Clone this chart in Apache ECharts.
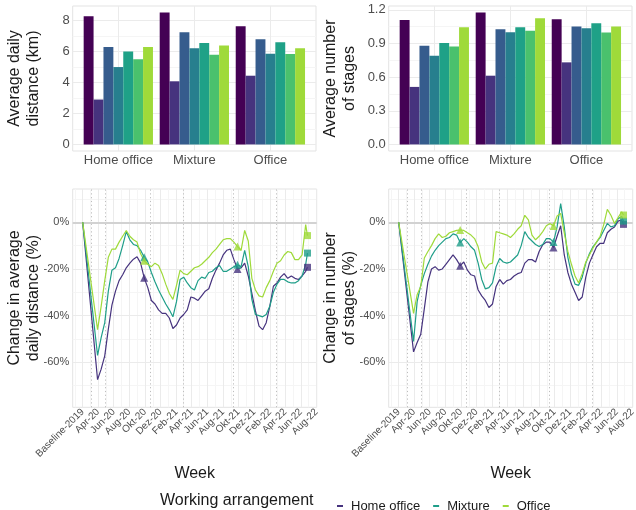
<!DOCTYPE html>
<html>
<head>
<meta charset="utf-8">
<script src="https://cdn.jsdelivr.net/npm/echarts@6/dist/echarts.min.js"></script>
<style>
  html, body { margin: 0; padding: 0; background: #ffffff; }
  #chart { width: 636px; height: 510px; }
</style>
</head>
<body>
<div id="chart"></div>
<script>
// ---------- data ----------
const arrangements = ['Home office', 'Mixture', 'Office'];
const phases = ['Phase 1', 'Phase 2', 'Phase 3', 'Phase 4', 'Phase 5', 'Phase 6', 'Phase 7'];

// Average daily distance (km), one value per phase
const distHome    = [8.28, 2.90, 6.29, 5.00, 6.01, 5.51, 6.29];
const distMixture = [8.52, 4.08, 7.25, 6.22, 6.55, 5.79, 6.39];
const distOffice  = [7.64, 4.44, 6.80, 5.86, 6.61, 5.84, 6.22];

// Average number of stages, one value per phase
const stagesHome    = [1.111, 0.513, 0.880, 0.791, 0.904, 0.874, 1.046];
const stagesMixture = [1.176, 0.613, 1.028, 1.001, 1.046, 1.013, 1.126];
const stagesOffice  = [1.117, 0.732, 1.052, 1.037, 1.081, 0.999, 1.052];

const distTicks  = [0, 2, 4, 6, 8];
const stageTicks = [0, 0.3, 0.6, 0.9, 1.2];
const pctTicks   = [-60, -40, -20, 0];
const pctMinor   = [-70, -50, -30, -10, 10];
const pctLimits  = [-75, 10];

const weekTickDates = ['2020-02-01', '2020-04-01', '2020-06-01', '2020-08-01', '2020-10-01', '2020-12-01',
  '2021-02-01', '2021-04-01', '2021-06-01', '2021-08-01', '2021-10-01', '2021-12-01',
  '2022-02-01', '2022-04-01', '2022-06-01', '2022-08-01'];
const weekTickLabels = ['Baseline-2019', 'Apr-20', 'Jun-20', 'Aug-20', 'Okt-20', 'Dez-20',
  'Feb-21', 'Apr-21', 'Jun-21', 'Aug-21', 'Okt-21', 'Dez-21',
  'Feb-22', 'Apr-22', 'Jun-22', 'Aug-22'];
const weekMinorDates = ['2020-01-01', '2020-03-01', '2020-05-01', '2020-07-01', '2020-09-01', '2020-11-01',
  '2021-01-01', '2021-03-01', '2021-05-01', '2021-07-01', '2021-09-01', '2021-11-01',
  '2022-01-01', '2022-03-01', '2022-05-01', '2022-07-01'];
const weekRange = ['2019-12-24', '2022-08-02'];

// policy milestones shown as dotted verticals
const eventDates = ['2020-03-04', '2020-04-30', '2020-10-21', '2021-03-01', '2021-09-12', '2022-02-27'];
// survey waves marked with triangles
const surveyWeeks = ['2020-09-28', '2021-09-27'];

const weeks = ['2020-02-01',
  '2020-03-30', '2020-04-13', '2020-04-27', '2020-05-11', '2020-05-25', '2020-06-08', '2020-06-22',
  '2020-07-06', '2020-07-20', '2020-08-03', '2020-08-17', '2020-08-31', '2020-09-14', '2020-09-28',
  '2020-10-12', '2020-10-26', '2020-11-09', '2020-11-23', '2020-12-07', '2020-12-21',
  '2021-01-04', '2021-01-18', '2021-02-01', '2021-02-15', '2021-03-01', '2021-03-15', '2021-03-29',
  '2021-04-12', '2021-04-26', '2021-05-10', '2021-05-24', '2021-06-07', '2021-06-21', '2021-07-05',
  '2021-07-19', '2021-08-02', '2021-08-16', '2021-08-30', '2021-09-13', '2021-09-27', '2021-10-11',
  '2021-10-25', '2021-11-08', '2021-11-22', '2021-12-06', '2021-12-20',
  '2022-01-03', '2022-01-17', '2022-01-31', '2022-02-14', '2022-02-28', '2022-03-14', '2022-03-28',
  '2022-04-11', '2022-04-25', '2022-05-09', '2022-05-23', '2022-06-06', '2022-06-20', '2022-06-27'];

// Change in average daily distance (%)
const chgDistHome = [0, -67.4, -62.9, -57.2, -45.8, -35.5, -29.5, -25, -22.5, -19.5, -17.5, -15.8, -14.8, -17.5,
  -23.8, -28, -33.5, -35, -37.5, -39, -39, -41, -45.5, -44, -41, -39.5, -37.5, -32, -32.5, -33.5, -31.5,
  -29.5, -28.5, -24, -20.5, -17.5, -14, -12, -11.5, -16, -20, -19.5, -17.5, -23, -30.5, -38, -44.5, -46,
  -43, -36, -27.4, -26, -23.5, -22, -24, -23, -24, -24.5, -23, -21, -19.3];
const chgDistMixture = [0, -57, -49.4, -43, -29.5, -20.5, -19.5, -15.5, -10, -4, -7.5, -9.5, -10, -12, -15,
  -17, -21.5, -25.5, -29, -32, -35, -37.5, -40.5, -34, -24.5, -23.5, -26, -28, -29, -25, -23.5, -24, -21.5,
  -21, -19.5, -18.5, -21, -21, -20, -19, -18.2, -19, -12, -19, -33, -39.5, -40, -40.5, -39.5, -36, -30,
  -26.5, -24.5, -24.5, -25.5, -26, -26, -25, -23, -18, -13.2];
const chgDistOffice = [0, -46, -36, -25, -15, -11.5, -11.5, -8.5, -6, -3.5, -6, -7.5, -8.5, -13.5, -16.5,
  -18, -19, -17.5, -18.5, -22, -26.5, -30.5, -33, -27, -20.5, -22, -22.5, -21, -19.5, -19, -18, -16.5, -15,
  -13, -11.5, -9.5, -7.5, -7, -7, -8.5, -10.4, -12, -3.5, -8, -24, -29, -31.5, -32, -28, -25, -21, -17.5,
  -16.5, -14, -12.5, -13, -16, -16, -14, -1, -5.7];

// Change in number of stages (%)
const chgStageHome = [0, -55.5, -51.5, -48, -37, -25.5, -20, -19, -20.5, -20, -18, -16, -14, -16, -18.6,
  -17, -20.5, -22.5, -23, -29, -31.5, -33.5, -36.5, -35, -27.5, -24.5, -26.5, -25, -24.5, -23, -22, -21.5,
  -17.5, -16, -16, -17, -12.5, -9.6, -8.5, -8.5, -10.8, -6, -1.5, -14, -21.5, -26.5, -30, -33.5, -32, -23.5,
  -17.5, -13.9, -10.5, -9, -9, -4.5, -3, -2, 0.5, 1, -0.9];
const chgStageMixture = [0, -51, -34, -27, -22, -18, -14.5, -12, -10, -8.5, -7, -6.5, -5, -5.5, -8.7, -7,
  -8.5, -10.5, -12, -17.5, -24.5, -28.5, -28, -26, -19, -15.5, -17, -17.5, -17, -15.5, -14, -10, -4, -6.5,
  -8, -9.5, -10.4, -9.5, -7, -7, -8.5, -2, 8, -2, -15, -22, -26.5, -27, -23.5, -17.5, -13.5, -10.5, -8.5,
  -6.5, -3.5, -0.5, -2, -1.5, 1.5, 2.5, 0.5];
const chgStageOffice = [0, -39, -31, -27.5, -15.3, -12.5, -10, -7, -5, -6.5, -6, -4.5, -4, -3.5, -3.3, -3.5,
  -4.5, -5.5, -7, -10.5, -17, -20, -18, -17.5, -4, -4.5, -5, -5.5, -6.5, -5, -3, -1.5, 3, 1, -5.5, -7.5, -6,
  -4, -1.5, -0.5, -1.6, 2.7, 3.8, -4.5, -12.5, -18, -23, -26, -22, -17, -14, -11, -8.5, -6, -1, 5.5, 3,
  -0.5, 2, 4.5, 3.1];

// ---------- styling ----------
const FONT = '"Liberation Sans", Arial, Helvetica, sans-serif';
const phaseColors = ['#440154', '#46337E', '#365C8D', '#277F8E', '#1FA187', '#4AC16D', '#9FDA3A'];
const lineColors = ['#46337E', '#1F9E89', '#9FDA3A'];
const GRID_MAJOR = '#EBEBEB';
const GRID_MINOR = '#F5F5F5';
const AXIS_TEXT = '#4D4D4D';
const TITLE_TEXT = '#1A1A1A';

const t = s => Date.parse(s);
const tickLabelByTime = new Map(weekTickDates.map((d, i) => [t(d), weekTickLabels[i]]));

// ggplot-style 5% expansion
function expand(lo, hi) {
  const pad = (hi - lo) * 0.05;
  return [lo - pad, hi + pad];
}

// ---------- helpers ----------
function hLine(v, color, width, type) {
  return { yAxis: v, lineStyle: { color: color, width: width, type: type || 'solid' } };
}
function vLine(v, color, width, type) {
  return { xAxis: v, lineStyle: { color: color, width: width, type: type || 'solid' } };
}
// background guide lines (grid, milestones, zero line) kept beneath the data marks
function guideSeries(idx, lines) {
  return {
    type: 'line', xAxisIndex: idx, yAxisIndex: idx, data: [], z: 0, silent: true,
    markLine: {
      z: 0, silent: true, animation: false, symbol: ['none', 'none'],
      label: { show: false }, emphasis: { disabled: true },
      data: lines
    }
  };
}

const grids = [
  { left: 72.7, top: 6, width: 243.3, height: 145 },
  { left: 388.7, top: 6, width: 243.3, height: 145 },
  { left: 72.7, top: 189, width: 244, height: 218.3 },
  { left: 388.7, top: 189, width: 244, height: 218.3 }
].map(g => Object.assign(g, {
  show: true, borderColor: '#E3E3E3', borderWidth: 1, backgroundColor: 'transparent',
  containLabel: false, outerBoundsMode: 'none', z: -1
}));

const catRange = [0.4, 3.6];
const catPositions = arrangements.map((_, i) => i + 1);

function barXAxis(idx) {
  return {
    type: 'value', gridIndex: idx, min: catRange[0], max: catRange[1],
    axisLine: { show: false }, axisTick: { show: false }, splitLine: { show: false },
    axisLabel: {
      customValues: catPositions, color: AXIS_TEXT, fontSize: 13, fontFamily: FONT, margin: 3,
      formatter: v => arrangements[Math.round(v) - 1] || ''
    }
  };
}
function barYAxis(idx, range, ticks, fmt) {
  return {
    type: 'value', gridIndex: idx, min: range[0], max: range[1],
    axisLine: { show: false }, axisTick: { show: false }, splitLine: { show: false },
    axisLabel: { customValues: ticks, color: AXIS_TEXT, fontSize: 13, fontFamily: FONT, margin: 3, formatter: fmt }
  };
}
function weekXAxis(idx) {
  return {
    type: 'value', gridIndex: idx, min: t(weekRange[0]), max: t(weekRange[1]),
    axisLine: { show: false }, axisTick: { show: false }, splitLine: { show: false },
    axisLabel: {
      customValues: weekTickDates.map(t), rotate: 45, color: AXIS_TEXT, fontSize: 10,
      fontFamily: FONT, margin: 3, formatter: v => tickLabelByTime.get(v) || ''
    }
  };
}
function pctYAxis(idx) {
  const r = expand(pctLimits[0], pctLimits[1]);
  return {
    type: 'value', gridIndex: idx, min: r[0], max: r[1],
    axisLine: { show: false }, axisTick: { show: false }, splitLine: { show: false },
    axisLabel: {
      customValues: pctTicks, color: AXIS_TEXT, fontSize: 11, fontFamily: FONT, margin: 3.5,
      formatter: v => v + '%'
    }
  };
}

const distMax = Math.max(...distHome, ...distMixture, ...distOffice);
const stageMax = Math.max(...stagesHome, ...stagesMixture, ...stagesOffice);
const distRange = expand(0, distMax);
const stageRange = expand(0, stageMax);

function barSeries(idx, home, mixture, office) {
  return phases.map((p, k) => ({
    type: 'bar', name: p, xAxisIndex: idx, yAxisIndex: idx,
    barWidth: 9.9, barGap: '0%', z: 2,
    itemStyle: { color: phaseColors[k] },
    data: [[1, home[k]], [2, mixture[k]], [3, office[k]]]
  }));
}

function midpoints(ticks) {
  const out = [];
  for (let i = 0; i < ticks.length - 1; i++) out.push((ticks[i] + ticks[i + 1]) / 2);
  return out;
}

function barGuides(idx, ticks, range) {
  const minor = midpoints(ticks);
  const step = ticks[1] - ticks[0];
  const top = ticks[ticks.length - 1] + step / 2;
  if (top < range[1]) minor.push(top);
  return guideSeries(idx, [
    ...minor.map(v => hLine(v, GRID_MINOR, 1)),
    ...ticks.map(v => hLine(v, GRID_MAJOR, 1)),
    ...catPositions.map(v => vLine(v, GRID_MAJOR, 1))
  ]);
}

function lineGuides(idx) {
  return guideSeries(idx, [
    ...pctMinor.map(v => hLine(v, GRID_MINOR, 1)),
    ...weekMinorDates.map(d => vLine(t(d), GRID_MINOR, 1)),
    ...pctTicks.map(v => hLine(v, GRID_MAJOR, 1)),
    ...weekTickDates.map(d => vLine(t(d), GRID_MAJOR, 1)),
    ...eventDates.map(d => vLine(t(d), '#BDBDBD', 1, [1.2, 2.6])),
    hLine(0, '#D2D2D2', 1.8)
  ]);
}

function changeSeries(idx, arrays) {
  const out = [];
  arrays.forEach((vals, a) => {
    out.push({
      type: 'line', name: arrangements[a], xAxisIndex: idx, yAxisIndex: idx,
      data: weeks.map((w, i) => [t(w), vals[i]]),
      showSymbol: false, symbol: 'none', z: 3,
      lineStyle: { color: lineColors[a], width: 1.2 },
      itemStyle: { color: lineColors[a] }
    });
  });
  arrays.forEach((vals, a) => {
    out.push({
      type: 'scatter', name: arrangements[a] + ' wave', xAxisIndex: idx, yAxisIndex: idx,
      symbol: 'triangle', symbolSize: 8, z: 4,
      itemStyle: { color: lineColors[a] },
      data: surveyWeeks.map(w => [t(w), vals[weeks.indexOf(w)]])
    });
    const last = weeks.length - 1;
    out.push({
      type: 'scatter', name: arrangements[a] + ' latest', xAxisIndex: idx, yAxisIndex: idx,
      symbol: 'rect', symbolSize: 7, z: 4,
      itemStyle: { color: lineColors[a] },
      data: [[t(weeks[last]), vals[last]]]
    });
  });
  return out;
}

function yTitle(x, y, text) {
  return {
    type: 'text', x: x, y: y, rotation: Math.PI / 2, silent: true,
    style: { text: text, align: 'center', verticalAlign: 'middle', fill: TITLE_TEXT,
      font: '16px ' + FONT, lineHeight: 18.5 }
  };
}
function xTitle(x, y, text) {
  return {
    type: 'text', x: x, y: y, silent: true,
    style: { text: text, align: 'center', verticalAlign: 'middle', fill: TITLE_TEXT, font: '16px ' + FONT }
  };
}

const option = {
  animation: false,
  backgroundColor: '#ffffff',
  textStyle: { fontFamily: FONT },
  grid: grids,
  xAxis: [barXAxis(0), barXAxis(1), weekXAxis(2), weekXAxis(3)],
  yAxis: [
    barYAxis(0, distRange, distTicks, v => String(v)),
    barYAxis(1, stageRange, stageTicks, v => v.toFixed(1)),
    pctYAxis(2),
    pctYAxis(3)
  ],
  legend: {
    data: arrangements, left: 332, top: 493, icon: 'rect',
    itemWidth: 6, itemHeight: 2, itemGap: 13, selectedMode: false,
    textStyle: { fontSize: 13, color: TITLE_TEXT, fontFamily: FONT, padding: [0, 0, 0, 3], lineHeight: 16 }
  },
  graphic: [
    yTitle(24.3, 78.5, 'Average daily\ndistance (km)'),
    yTitle(340.2, 78.5, 'Average number\nof stages'),
    yTitle(24.3, 298, 'Change in average\ndaily distance (%)'),
    yTitle(340.2, 298, 'Change in number\nof stages (%)'),
    xTitle(194.7, 474, 'Week'),
    xTitle(510.7, 474, 'Week'),
    {
      type: 'text', x: 160, y: 501, silent: true,
      style: { text: 'Working arrangement', align: 'left', verticalAlign: 'middle', fill: TITLE_TEXT, font: '16px ' + FONT }
    }
  ],
  series: [
    barGuides(0, distTicks, distRange),
    barGuides(1, stageTicks, stageRange),
    lineGuides(2),
    lineGuides(3),
    ...barSeries(0, distHome, distMixture, distOffice),
    ...barSeries(1, stagesHome, stagesMixture, stagesOffice),
    ...changeSeries(2, [chgDistHome, chgDistMixture, chgDistOffice]),
    ...changeSeries(3, [chgStageHome, chgStageMixture, chgStageOffice])
  ]
};

const chart = echarts.init(document.getElementById('chart'), null, { renderer: 'canvas' });
chart.setOption(option);
</script>
</body>
</html>
